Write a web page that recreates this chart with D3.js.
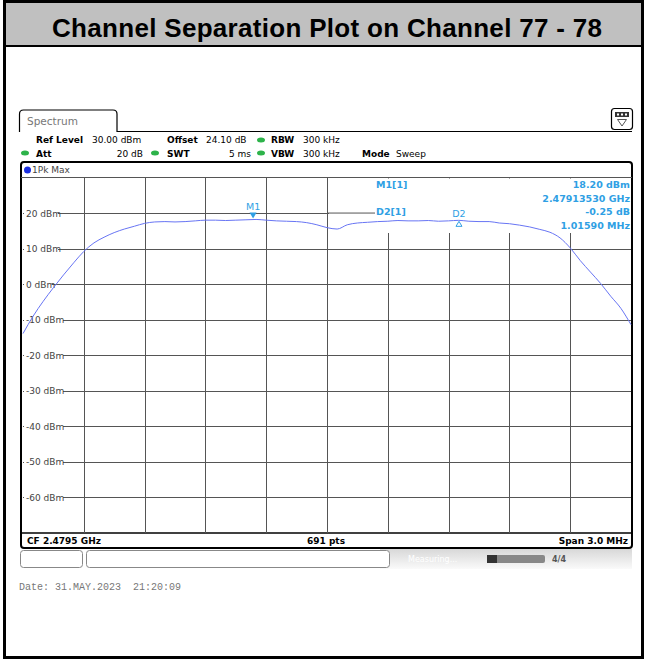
<!DOCTYPE html>
<html>
<head>
<meta charset="utf-8">
<script src="https://cdn.jsdelivr.net/npm/d3@7"></script>
<style>
  body { margin: 0; background: #fff; }
  svg { display: block; }
  .ui { font-family: 'DejaVu Sans', sans-serif; font-size: 9px; fill: #000; }
  .b { font-weight: bold; }
  .grid line { stroke: #555; stroke-width: 1; shape-rendering: crispEdges; }
  .grid path { display: none; }
  .mk { font-family: 'DejaVu Sans', sans-serif; font-size: 9.5px; fill: #2f9fe4; font-weight: bold; }
</style>
</head>
<body>
<script>
// trace: offset from centre (MHz) and level (dBm)
const offsets = [-1.50, -1.45, -1.40, -1.35, -1.30, -1.25, -1.20, -1.15, -1.10, -1.05,
  -1.00, -0.95, -0.90, -0.85, -0.80, -0.75, -0.70, -0.65, -0.60, -0.55,
  -0.50, -0.45, -0.40, -0.35, -0.30, -0.25, -0.20, -0.15, -0.10, -0.05,
  0.00, 0.05, 0.10, 0.15, 0.20, 0.25, 0.30, 0.35, 0.40, 0.45,
  0.50, 0.55, 0.60, 0.65, 0.70, 0.75, 0.80, 0.85, 0.90, 0.95,
  1.00, 1.05, 1.10, 1.15, 1.20, 1.25, 1.30, 1.35, 1.40, 1.45, 1.50];
const levels = [-13.9, -9.0, -4.8, -1.0, 2.6, 6.0, 9.2, 11.6, 13.2, 14.5,
  15.5, 16.3, 17.1, 17.5, 17.6, 17.5, 17.6, 17.8, 18.0, 18.0,
  17.9, 18.0, 18.1, 18.2, 18.0, 17.8, 17.7, 17.6, 17.3, 16.7,
  15.9, 15.5, 16.7, 17.2, 17.4, 17.6, 17.7, 17.9, 17.8, 17.8,
  17.9, 17.7, 17.8, 17.95, 17.7, 17.6, 17.6, 17.2, 17.0, 16.6,
  16.1, 15.4, 14.6, 13.0, 10.2, 6.6, 3.4, 0.2, -3.4, -6.8, -11.4];

const yTicks = [20, 10, 0, -10, -20, -30, -40, -50, -60];
const xTicks = [-1.2, -0.9, -0.6, -0.3, 0, 0.3, 0.6, 0.9, 1.2];

// markers
const m1 = { name: 'M1', off: -0.3647, level: 18.2 };
const d2 = { name: 'D2', off: 0.6512, level: 17.95 };
const markerInfo = [
  ['M1[1]', '18.20 dBm'],
  ['', '2.47913530 GHz'],
  ['D2[1]', '-0.25 dB'],
  ['', '1.01590 MHz']
];

const W = 646, H = 660;
const svg = d3.select('body').append('svg').attr('width', W).attr('height', H);

// outer frame + title band
svg.append('rect').attr('x', 4.5).attr('y', 1.5).attr('width', 638).attr('height', 44)
  .attr('fill', '#c0c0c0');
svg.append('line').attr('x1', 4).attr('x2', 644).attr('y1', 46).attr('y2', 46)
  .attr('stroke', '#000').attr('stroke-width', 2);
svg.append('rect').attr('x', 4.5).attr('y', 1.5).attr('width', 638).attr('height', 656)
  .attr('fill', 'none').attr('stroke', '#000').attr('stroke-width', 3);
svg.append('text').attr('x', 327).attr('y', 37).attr('text-anchor', 'middle')
  .style('font-family', "'Liberation Sans', Arial, sans-serif").style('font-weight', 'bold')
  .style('font-size', '26px').attr('textLength', 550).text('Channel Separation Plot on Channel 77 - 78');

// Spectrum tab
svg.append('path').attr('d', 'M19.5,132 V114 Q19.5,110 23.5,110 H113 Q117,110 117,114 V131.5 H632')
  .attr('fill', 'none').attr('stroke', '#000').attr('stroke-width', 1.2);
svg.append('text').attr('class', 'ui').attr('x', 27).attr('y', 125)
  .style('font-size', '10.5px').style('fill', '#777').text('Spectrum');
// icon top right
svg.append('rect').attr('x', 611.5).attr('y', 108.5).attr('width', 21).attr('height', 21).attr('rx', 3)
  .attr('fill', '#fff').attr('stroke', '#000').attr('stroke-width', 1.2);
svg.append('rect').attr('x', 615).attr('y', 112).attr('width', 14).attr('height', 5).attr('fill', '#333');
[618, 622, 626].forEach(x => svg.append('rect').attr('x', x - 1).attr('y', 113.5).attr('width', 2).attr('height', 2).attr('fill', '#fff'));
svg.append('path').attr('d', 'M617.5,119.5 L626.5,119.5 L622,126 Z').attr('fill', 'none').attr('stroke', '#555');

// settings rows
const info = svg.append('g');
function t(x, y, s, cls, anchor) {
  info.append('text').attr('class', 'ui ' + (cls || '')).attr('x', x).attr('y', y)
    .attr('text-anchor', anchor || 'start').text(s);
}
function dot(x, y) {
  info.append('ellipse').attr('cx', x).attr('cy', y).attr('rx', 4).attr('ry', 2.5).attr('fill', '#2db34a');
}
t(36, 143, 'Ref Level', 'b'); t(92, 143, '30.00 dBm');
t(167, 143, 'Offset', 'b'); t(206, 143, '24.10 dB');
dot(261, 140); t(271, 143, 'RBW', 'b'); t(303, 143, '300 kHz');
dot(25, 153); t(36, 156.5, 'Att', 'b'); t(143, 156.5, '20 dB', '', 'end');
dot(155, 153); t(167, 156.5, 'SWT', 'b'); t(251, 156.5, '5 ms', '', 'end');
dot(261, 153); t(271, 156.5, 'VBW', 'b'); t(303, 156.5, '300 kHz');
t(362, 156.5, 'Mode', 'b'); t(396, 156.5, 'Sweep');

// plot frame
const px0 = 23, px1 = 631, py0 = 177.5, py1 = 533;
svg.append('rect').attr('x', 21).attr('y', 162).attr('width', 611).attr('height', 386).attr('rx', 3)
  .attr('fill', '#fff').attr('stroke', '#000').attr('stroke-width', 2);
svg.append('line').attr('x1', 21).attr('x2', 632).attr('y1', py0).attr('y2', py0).attr('stroke', '#555');
svg.append('line').attr('x1', 21).attr('x2', 632).attr('y1', py1).attr('y2', py1).attr('stroke', '#000').attr('stroke-width', 1.5);
svg.append('circle').attr('cx', 27.5).attr('cy', 170).attr('r', 3.5).attr('fill', '#1b2fe0');
svg.append('text').attr('class', 'ui').attr('x', 32).attr('y', 173).style('fill', '#444').text('1Pk Max');

const x = d3.scaleLinear().domain([-1.5, 1.5]).range([px0, px1]);
const y = d3.scaleLinear().domain([30, -70]).range([py0, py1]);

const plot = svg.append('g');
plot.append('g').attr('class', 'grid').attr('transform', 'translate(0,' + py1 + ')')
  .call(d3.axisBottom(x).tickValues(xTicks).tickSize(-(py1 - py0)).tickFormat(''));
plot.append('g').attr('class', 'grid').attr('transform', 'translate(' + px0 + ',0)')
  .call(d3.axisLeft(y).tickValues(yTicks).tickSize(-(px1 - px0)).tickFormat(''));

// y labels sit on the grid lines
const lab = plot.selectAll('.ylab').data(yTicks).enter().append('g');
lab.append('rect').attr('x', px0 + 1).attr('y', d => y(d) - 6).attr('height', 12)
  .attr('width', d => (d < 0 ? 33 : 28) + (Math.abs(d) >= 10 ? 6 : 0)).attr('fill', '#fff');
lab.append('text').attr('class', 'ui').attr('x', px0 + 3).attr('y', d => y(d) + 3.5)
  .style('fill', '#444').text(d => d + ' dBm');

// marker info box blanks the grid in top right
plot.append('rect').attr('x', 329).attr('y', py0 + 1).attr('width', px1 - 329).attr('height', 232 - py0)
  .attr('fill', '#fff');
plot.append('line').attr('x1', 328).attr('x2', 375).attr('y1', y(20)).attr('y2', y(20)).attr('stroke', '#555');
markerInfo.forEach((r, i) => {
  const yy = 188 + i * 13.5;
  if (r[0]) plot.append('text').attr('class', 'mk').attr('x', 376).attr('y', yy).text(r[0]);
  plot.append('text').attr('class', 'mk').attr('x', px1 - 1).attr('y', yy).attr('text-anchor', 'end').text(r[1]);
});

// trace
const data = offsets.map((o, i) => ({ off: o, level: levels[i] }));
plot.append('path').datum(data)
  .attr('fill', 'none').attr('stroke', '#6875f4').attr('stroke-width', 1)
  .attr('d', d3.line().curve(d3.curveMonotoneX).x(d => x(d.off)).y(d => y(d.level)));

// markers
const mx = x(m1.off), my = y(m1.level);
plot.append('path').attr('d', `M${mx - 3.5},${my - 7} L${mx + 3.5},${my - 7} L${mx},${my - 1} Z`).attr('fill', '#2f9fe4');
plot.append('text').attr('class', 'mk').style('font-weight', 'normal').attr('x', mx).attr('y', my - 9)
  .attr('text-anchor', 'middle').text(m1.name);
const dx = x(d2.off), dy = y(d2.level);
plot.append('path').attr('d', `M${dx - 3},${dy + 6} L${dx + 3},${dy + 6} L${dx},${dy + 1} Z`)
  .attr('fill', 'none').attr('stroke', '#2f9fe4');
plot.append('text').attr('class', 'mk').style('font-weight', 'normal').attr('x', dx).attr('y', dy - 3)
  .attr('text-anchor', 'middle').text(d2.name);

// footer of the plot
svg.append('text').attr('class', 'ui b').attr('x', 27).attr('y', 544).text('CF 2.4795 GHz');
svg.append('text').attr('class', 'ui b').attr('x', 326).attr('y', 544).attr('text-anchor', 'middle').text('691 pts');
svg.append('text').attr('class', 'ui b').attr('x', 628).attr('y', 544).attr('text-anchor', 'end').text('Span 3.0 MHz');

// status bar
const grad = svg.append('defs').append('linearGradient').attr('id', 'sb').attr('x1', 0).attr('x2', 0).attr('y1', 0).attr('y2', 1);
grad.append('stop').attr('offset', 0).attr('stop-color', '#d8d8d8');
grad.append('stop').attr('offset', 1).attr('stop-color', '#fafafa');
svg.append('rect').attr('x', 380).attr('y', 549).attr('width', 252).attr('height', 20).attr('fill', 'url(#sb)');
svg.append('rect').attr('x', 20.5).attr('y', 550.5).attr('width', 62).attr('height', 17).attr('rx', 3)
  .attr('fill', '#fff').attr('stroke', '#888');
svg.append('rect').attr('x', 86.5).attr('y', 550.5).attr('width', 303).attr('height', 17).attr('rx', 3)
  .attr('fill', '#fff').attr('stroke', '#888');
svg.append('text').attr('class', 'ui').attr('x', 408).attr('y', 562).style('fill', '#fff').style('font-size', '8px').text('Measuring...');
svg.append('rect').attr('x', 487).attr('y', 555).attr('width', 58).attr('height', 8).attr('rx', 2).attr('fill', '#888');
svg.append('rect').attr('x', 487).attr('y', 555).attr('width', 10).attr('height', 8).attr('fill', '#333');
svg.append('text').attr('class', 'ui b').attr('x', 552).attr('y', 562).style('fill', '#555').style('font-size', '8px').text('4/4');

svg.append('text').attr('x', 19).attr('y', 590)
  .style('font-family', "'Liberation Mono', 'DejaVu Sans Mono', monospace").style('font-size', '10px')
  .style('fill', '#777').attr('xml:space', 'preserve').style('white-space', 'pre')
  .text('Date: 31.MAY.2023  21:20:09');
</script>
</body>
</html>
